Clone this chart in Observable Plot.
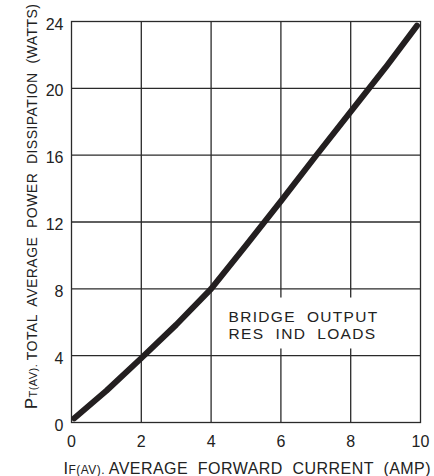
<!DOCTYPE html>
<html>
<head>
<meta charset="utf-8">
<script src="https://cdn.jsdelivr.net/npm/d3@7"></script>
<script src="https://cdn.jsdelivr.net/npm/@observablehq/plot@0.6"></script>
<style>
  html, body { margin: 0; padding: 0; background: #fff; }
</style>
</head>
<body>
<div id="chart"></div>
<script>
// Data
const current = [0.08, 1, 2, 3, 4, 5, 6, 7, 8, 9, 9.9];
const power   = [0.25, 1.9, 3.85, 5.85, 8.0, 10.6, 13.25, 15.95, 18.6, 21.25, 23.75];
const xTicks = [0, 2, 4, 6, 8, 10];
const yTicks = [0, 4, 8, 12, 16, 20, 24];
const noteLines = ["BRIDGE  OUTPUT", "RES  IND  LOADS"];
const noteX = [4.5, 4.5];
const noteY = [6.04, 4.99];
const noteBox = [{x1: 4.45, x2: 9.5, y1: 4.4, y2: 7.45}];

const curve = current.map((x, i) => ({x, y: power[i]}));
const notes = noteLines.map((t, i) => ({t, x: noteX[i], y: noteY[i]}));

const ink = "#231f20";
const grid = "#2a2a2a";

const plot = Plot.plot({
  width: 434,
  height: 476,
  marginLeft: 71,
  marginRight: 14,
  marginTop: 21,
  marginBottom: 54,
  style: {fontFamily: "'Liberation Sans', Arial, sans-serif", fontSize: "16px", color: "#222", background: "#fff"},
  x: {domain: [0, 10]},
  y: {domain: [0, 24]},
  marks: [
    Plot.gridX(xTicks.slice(1, -1), {stroke: grid, strokeOpacity: 1, strokeWidth: 1.3}),
    Plot.gridY(yTicks.slice(1, -1), {stroke: grid, strokeOpacity: 1, strokeWidth: 1.3}),
    Plot.rect(noteBox, {x1: "x1", x2: "x2", y1: "y1", y2: "y2", fill: "#fff"}),
    Plot.text(notes, {x: "x", y: "y", text: "t", textAnchor: "start", lineAnchor: "bottom", fontSize: 15.5, fill: "#222"}),
    Plot.frame({stroke: grid, strokeWidth: 1.3}),
    Plot.axisX({ticks: xTicks, tickSize: 0, tickPadding: 13, label: null, fontSize: 16}),
    Plot.axisY({ticks: yTicks, tickSize: 0, tickPadding: 8, dy: 3, label: null, fontSize: 16}),
    Plot.line(curve, {x: "x", y: "y", stroke: ink, strokeWidth: 6, strokeLinecap: "round", strokeLinejoin: "round"})
  ]
});

const svg = d3.select(plot);
svg.selectAll("text")
  .filter(function() { return noteLines.includes(this.textContent); })
  .attr("letter-spacing", "1.3px")
  .style("letter-spacing", "1.3px");

// X axis title
const xt = svg.append("text")
  .attr("x", 63.5).attr("y", 473.5)
  .attr("fill", "#222")
  .attr("text-anchor", "start")
  .attr("font-size", 16)
  .attr("textLength", 367)
  .attr("lengthAdjust", "spacing");
xt.append("tspan").attr("font-size", 16.5).text("I");
xt.append("tspan").attr("font-size", 12).text("F(AV). ");
xt.append("tspan").text("AVERAGE  FORWARD  CURRENT  (AMP)");

// Y axis title
const yt = svg.append("text")
  .attr("transform", "translate(37,409) rotate(-90)")
  .attr("fill", "#222")
  .attr("text-anchor", "start")
  .attr("font-size", 14)
  .attr("textLength", 405)
  .attr("lengthAdjust", "spacing");
yt.append("tspan").attr("font-size", 16.5).text("P");
yt.append("tspan").attr("font-size", 11).text("T(AV). ");
yt.append("tspan").text("TOTAL  AVERAGE  POWER  DISSIPATION  (WATTS)");

document.getElementById("chart").appendChild(plot);
</script>
</body>
</html>
